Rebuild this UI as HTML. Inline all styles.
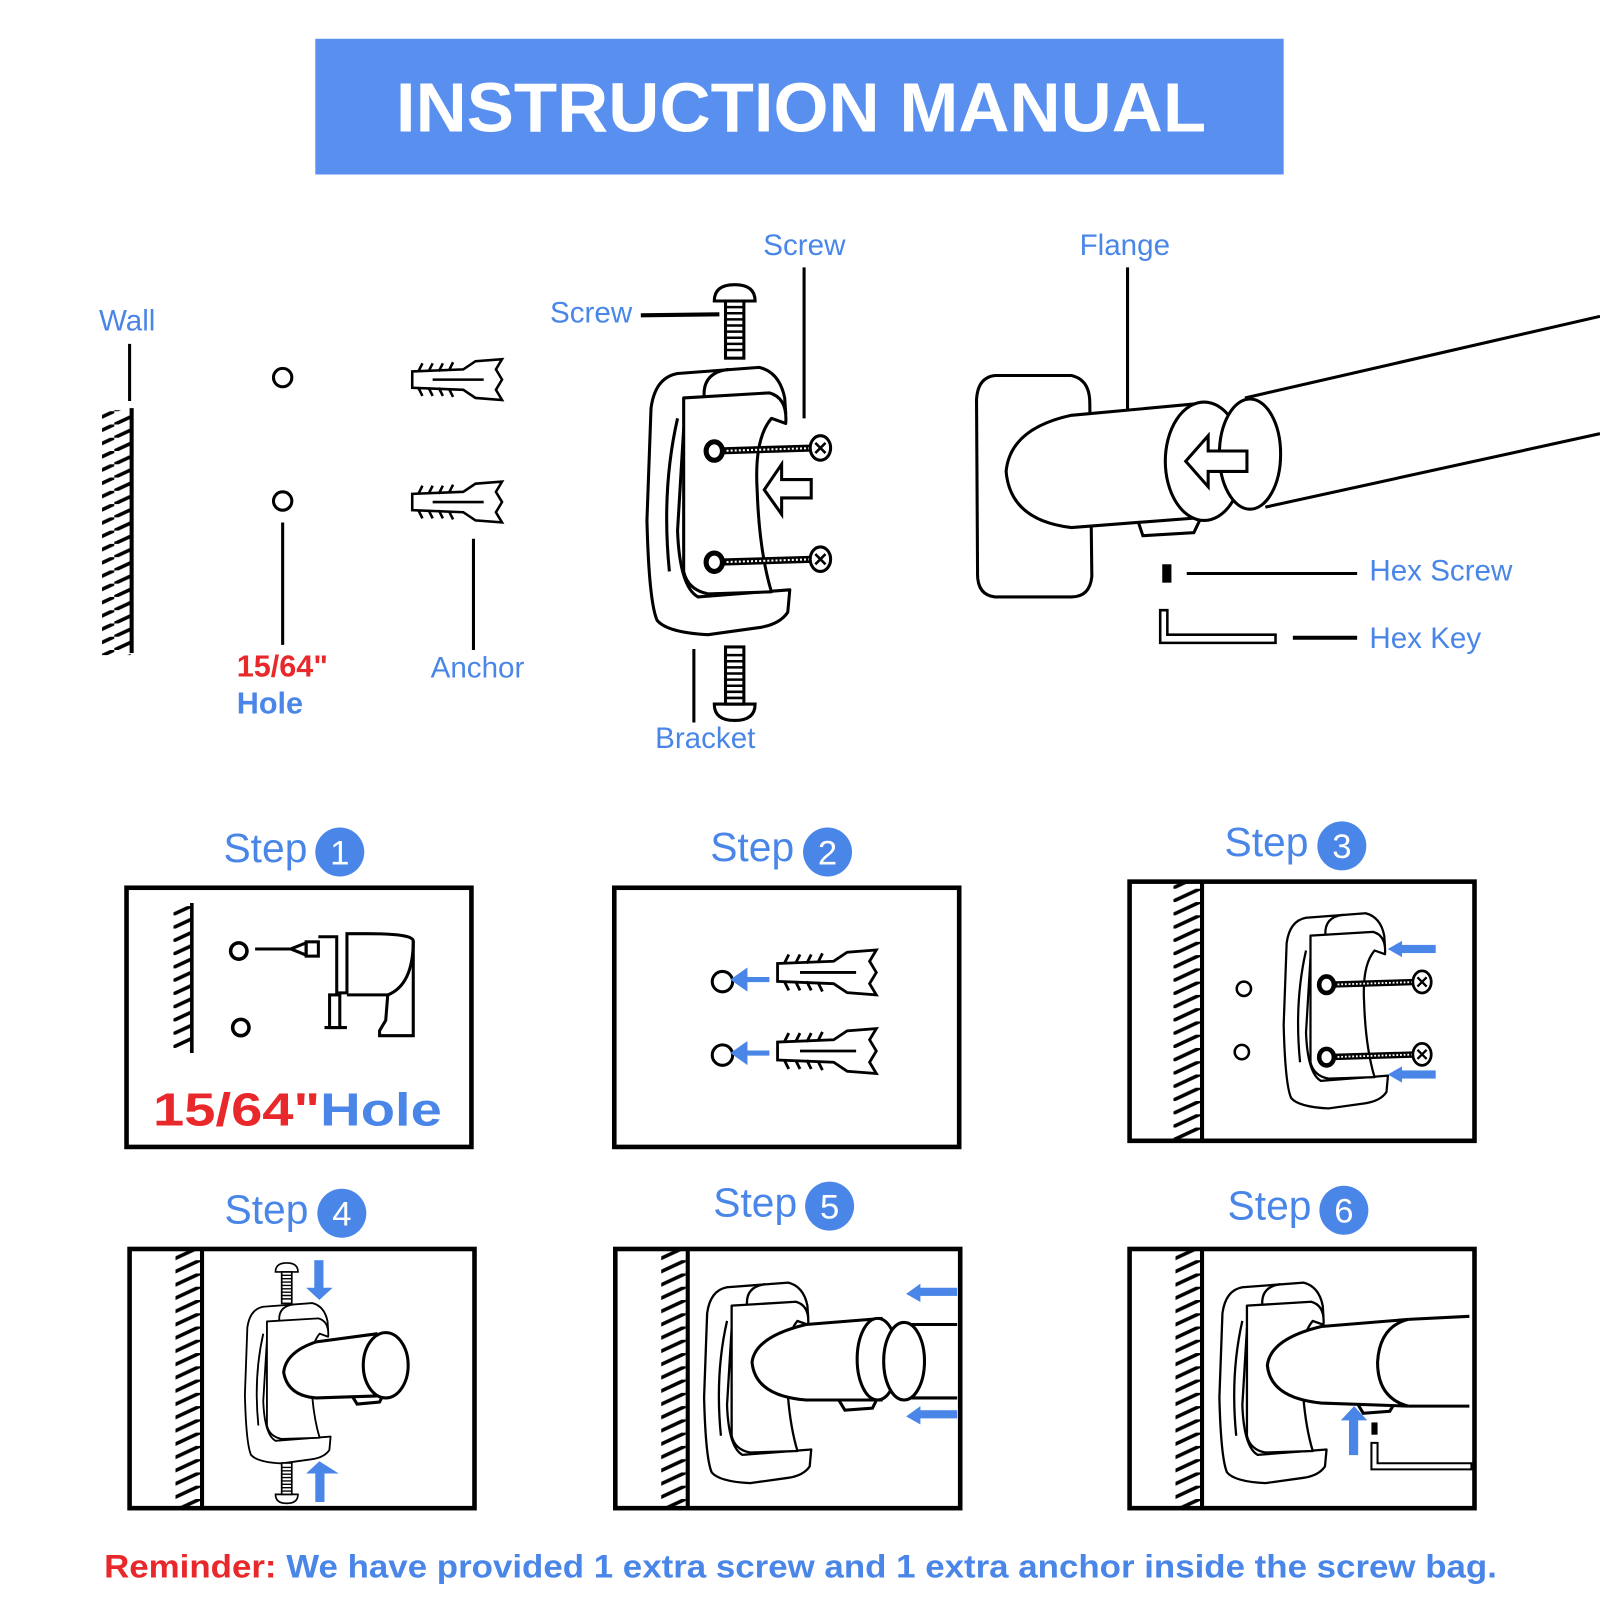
<!DOCTYPE html>
<html><head><meta charset="utf-8"><style>
html,body{margin:0;padding:0;background:#fff;}
svg{display:block;}
text{font-family:"Liberation Sans",sans-serif;}
</style></head><body>
<svg width="1600" height="1600" viewBox="0 0 1568 1568" xmlns="http://www.w3.org/2000/svg">
<defs>
  <pattern id="hatch" width="28" height="13" patternUnits="userSpaceOnUse">
    <line x1="0" y1="13" x2="28" y2="0" stroke="#000" stroke-width="3.5"/>
  </pattern>
  <g id="bracket" fill="#fff" stroke="#000" stroke-width="3" stroke-linejoin="round">
    <path d="M30,6 L110,0 Q130,5 135,30 L136,45 L60,40 Q40,42 36,60 L30,160 Q32,215 50,225 L140,218 L138,240 Q130,252 110,255 L60,262 Q20,260 10,248 Q2,230 0,150 L4,40 Q8,10 30,6 Z"/>
    <path d="M36,30 L120,25 Q138,30 136,55 L122,50 Q105,70 108,120 Q110,180 122,220 L60,222 Q40,218 36,200 Z"/>
    <path d="M30,50 Q14,120 22,200" fill="none"/>
    <path d="M56,28 Q55,5 80,2" fill="none"/>
  </g>
  <g id="anchor" fill="#fff" stroke="#000" stroke-width="2.5">
    <path d="M0,-8 L50,-10 L62,-18 L88,-20 L82,-10 L88,0 L82,10 L88,20 L62,18 L50,10 L0,8 Z"/>
    <path d="M6,-8 L10,-16 M16,-8 L20,-16 M26,-8 L30,-16 M36,-9 L40,-17 M6,8 L10,16 M16,8 L20,16 M26,8 L30,16 M36,9 L40,17" fill="none"/>
    <line x1="20" y1="0" x2="70" y2="0"/>
  </g>
  <g id="hscrew">
    <line x1="0" y1="0" x2="100" y2="-3" stroke="#000" stroke-width="7"/>
    <line x1="4" y1="0" x2="100" y2="-3" stroke="#fff" stroke-width="2" stroke-dasharray="2 2"/>
    <ellipse cx="0" cy="0" rx="8" ry="9" fill="#fff" stroke="#000" stroke-width="5"/>
    <ellipse cx="104" cy="-3" rx="10" ry="12" fill="#fff" stroke="#000" stroke-width="3"/>
    <path d="M99,-8 L109,2 M109,-8 L99,2" stroke="#000" stroke-width="2.5"/>
  </g>
  <g id="vscrew" fill="#fff" stroke="#000" stroke-width="3">
    <path d="M-20,10 Q-20,-6 0,-6 Q20,-6 20,10 Z"/>
    <rect x="-9" y="10" width="18" height="56"/>
    <path d="M-9,16 H9 M-9,22 H9 M-9,28 H9 M-9,34 H9 M-9,40 H9 M-9,46 H9 M-9,52 H9 M-9,58 H9" stroke-width="2.5"/>
  </g>
</defs>

<!-- Title -->
<rect x="309" y="38" width="949" height="133" fill="#5990f0"/>
<text x="388" y="129" fill="#fff" font-size="68" font-weight="bold" textLength="794" lengthAdjust="spacingAndGlyphs">INSTRUCTION MANUAL</text>

<!-- Wall -->
<text x="97" y="324" fill="#4a86e8" font-size="29">Wall</text>
<line x1="127" y1="337" x2="127" y2="393" stroke="#000" stroke-width="3"/>
<rect x="100" y="402" width="28" height="240" fill="url(#hatch)"/>
<line x1="129" y1="400" x2="129" y2="640" stroke="#000" stroke-width="4"/>

<!-- Holes -->
<circle cx="277" cy="370" r="9" fill="none" stroke="#000" stroke-width="3"/>
<circle cx="277" cy="491" r="9" fill="none" stroke="#000" stroke-width="3"/>
<line x1="277" y1="512" x2="277" y2="632" stroke="#000" stroke-width="3"/>
<text x="232" y="663" fill="#e8282b" font-size="30" font-weight="bold">15/64"</text>
<text x="232" y="699" fill="#4a86e8" font-size="30" font-weight="bold">Hole</text>

<!-- Anchors -->
<use href="#anchor" transform="translate(404,372)"/>
<use href="#anchor" transform="translate(404,492)"/>
<line x1="464" y1="528" x2="464" y2="637" stroke="#000" stroke-width="3"/>
<text x="422" y="664" fill="#4a86e8" font-size="29">Anchor</text>

<!-- Bracket -->
<text x="539" y="316" fill="#4a86e8" font-size="29">Screw</text>
<line x1="628" y1="309" x2="705" y2="308" stroke="#000" stroke-width="4"/>
<use href="#vscrew" transform="translate(720,285)"/>
<text x="748" y="250" fill="#4a86e8" font-size="29">Screw</text>
<line x1="788" y1="262" x2="788" y2="410" stroke="#000" stroke-width="3"/>
<use href="#bracket" transform="translate(634,360)"/>
<use href="#hscrew" transform="translate(700,442)"/>
<use href="#hscrew" transform="translate(700,551)"/>
<path d="M749,480 L766,455 L766,470 L795,470 L795,488 L766,488 L766,504 Z" fill="#fff" stroke="#000" stroke-width="3"/>
<use href="#vscrew" transform="translate(720,700) scale(1,-1)"/>
<line x1="680" y1="636" x2="680" y2="708" stroke="#000" stroke-width="3"/>
<text x="642" y="733" fill="#4a86e8" font-size="29">Bracket</text>

<!-- Flange -->
<text x="1058" y="250" fill="#4a86e8" font-size="29">Flange</text>
<line x1="1105" y1="262" x2="1105" y2="425" stroke="#000" stroke-width="3"/>
<g fill="#fff" stroke="#000" stroke-width="3">
  <path d="M975,368 L1050,368 Q1068,372 1068,395 L1070,565 Q1068,585 1050,585 L975,585 Q957,583 958,560 L957,392 Q958,370 975,368 Z"/>
  <path d="M1115,510 L1120,525 L1170,522 L1178,505"/>
  <path d="M1180,395 L1050,407 Q990,420 986,462 Q990,510 1050,517 L1180,507"/>
  <path d="M1220,390 L1568,310 M1240,497 L1568,425" fill="none"/>
  <ellipse cx="1180" cy="452" rx="38" ry="58"/>
  <ellipse cx="1225" cy="445" rx="30" ry="54"/>
  <path d="M1162,452 L1184,427 L1184,442 L1222,442 L1222,462 L1184,462 L1184,477 Z"/>
</g>
<rect x="1139" y="553" width="9" height="18" fill="#000"/>
<line x1="1163" y1="562" x2="1330" y2="562" stroke="#000" stroke-width="3"/>
<text x="1342" y="569" fill="#4a86e8" font-size="29">Hex Screw</text>
<path d="M1137,598 L1137,630 L1250,630 L1250,622 L1144,622 L1144,598 Z" fill="#fff" stroke="#000" stroke-width="2.5"/>
<line x1="1267" y1="625" x2="1330" y2="625" stroke="#000" stroke-width="4"/>
<text x="1342" y="635" fill="#4a86e8" font-size="29">Hex Key</text>

<!-- Step labels -->
<g fill="#4a86e8" font-size="40">
  <text x="219" y="845">Step</text><text x="696" y="844">Step</text><text x="1200" y="839">Step</text>
  <text x="220" y="1199">Step</text><text x="699" y="1192">Step</text><text x="1203" y="1195">Step</text>
</g>
<g fill="#4a86e8">
  <circle cx="333" cy="835" r="24"/><circle cx="811" cy="835" r="24"/><circle cx="1315" cy="829" r="24"/>
  <circle cx="335" cy="1189" r="24"/><circle cx="813" cy="1182" r="24"/><circle cx="1317" cy="1186" r="24"/>
</g>
<g fill="#fff" font-size="34" text-anchor="middle">
  <text x="333" y="847">1</text><text x="811" y="847">2</text><text x="1315" y="841">3</text>
  <text x="335" y="1201">4</text><text x="813" y="1194">5</text><text x="1317" y="1198">6</text>
</g>

<!-- Boxes -->
<g fill="none" stroke="#000" stroke-width="4.5">
  <rect x="124" y="870" width="338" height="254"/>
  <rect x="602" y="870" width="338" height="254"/>
  <rect x="1107" y="864" width="338" height="254"/>
  <rect x="127" y="1224" width="338" height="254"/>
  <rect x="603" y="1224" width="338" height="254"/>
  <rect x="1107" y="1224" width="338" height="254"/>
</g>

<!-- Step 1 -->
<rect x="170" y="888" width="18" height="142" fill="url(#hatch)"/>
<line x1="188" y1="885" x2="188" y2="1032" stroke="#000" stroke-width="3.5"/>
<circle cx="234" cy="932" r="8" fill="none" stroke="#000" stroke-width="3.5"/>
<circle cx="236" cy="1007" r="8" fill="none" stroke="#000" stroke-width="3.5"/>
<g fill="none" stroke="#000" stroke-width="3">
  <line x1="250" y1="930" x2="285" y2="930"/>
  <path d="M285,930 L300,924 L300,936 Z"/>
  <rect x="300" y="923" width="12" height="14"/>
  <path d="M312,918 L330,918 L330,973 L340,973 L340,915 L360,915 Q405,915 405,922 Q405,965 380,975 L340,975"/>
  <rect x="323" y="975" width="10" height="32"/>
  <line x1="318" y1="1007" x2="340" y2="1007"/>
  <path d="M380,975 L378,1000 L372,1010 L372,1015 L405,1015 L405,922"/>
</g>
<text x="150" y="1103" font-size="45" font-weight="bold" textLength="283" lengthAdjust="spacingAndGlyphs"><tspan fill="#e8282b">15/64"</tspan><tspan fill="#4a86e8">Hole</tspan></text>

<!-- Step 2 -->
<circle cx="708" cy="962" r="10" fill="none" stroke="#000" stroke-width="3"/>
<circle cx="708" cy="1034" r="10" fill="none" stroke="#000" stroke-width="3"/>
<g stroke="#4a86e8" stroke-width="5" fill="#4a86e8">
  <line x1="725" y1="960" x2="754" y2="960"/><path d="M720,960 L730,953 L730,967 Z"/>
  <line x1="725" y1="1032" x2="754" y2="1032"/><path d="M720,1032 L730,1025 L730,1039 Z"/>
</g>
<use href="#anchor" transform="translate(762,953) scale(1.1)"/>
<use href="#anchor" transform="translate(762,1030) scale(1.1)"/>

<!-- Step 3 -->
<rect x="1150" y="866" width="28" height="250" fill="url(#hatch)"/>
<line x1="1178" y1="864" x2="1178" y2="1118" stroke="#000" stroke-width="4"/>
<circle cx="1219" cy="969" r="7" fill="none" stroke="#000" stroke-width="2.5"/>
<circle cx="1217" cy="1031" r="7" fill="none" stroke="#000" stroke-width="2.5"/>
<use href="#bracket" transform="translate(1258,895) scale(0.73)"/>
<use href="#hscrew" transform="translate(1300,965) scale(0.9)"/>
<use href="#hscrew" transform="translate(1300,1036) scale(0.9)"/>
<g fill="#4a86e8">
  <rect x="1372" y="926" width="35" height="8"/><path d="M1360,930 L1374,922 L1374,938 Z"/>
  <rect x="1372" y="1049" width="35" height="8"/><path d="M1360,1053 L1374,1045 L1374,1061 Z"/>
</g>

<!-- Step 4 -->
<rect x="172" y="1226" width="26" height="250" fill="url(#hatch)"/>
<line x1="198" y1="1224" x2="198" y2="1478" stroke="#000" stroke-width="4"/>
<use href="#bracket" transform="translate(240,1277) scale(0.6)"/>
<g fill="#fff" stroke="#000" stroke-width="3">
  <path d="M345,1368 L350,1376 L372,1374 L376,1366"/>
  <path d="M370,1307 L310,1315 Q280,1325 278,1345 Q282,1368 310,1370 L370,1368"/>
  <ellipse cx="378" cy="1338" rx="22" ry="32"/>
</g>
<use href="#vscrew" transform="translate(281,1241) scale(0.55)"/>
<use href="#vscrew" transform="translate(281,1470) scale(0.55,-0.55)"/>
<g fill="#4a86e8">
  <rect x="308" y="1235" width="9" height="30"/><path d="M300,1262 L326,1262 L313,1274 Z"/>
  <rect x="309" y="1442" width="9" height="30"/><path d="M300,1444 L332,1444 L313,1432 Z"/>
</g>

<!-- Step 5 -->
<rect x="648" y="1226" width="26" height="250" fill="url(#hatch)"/>
<line x1="674" y1="1224" x2="674" y2="1478" stroke="#000" stroke-width="4"/>
<use href="#bracket" transform="translate(690,1257) scale(0.75)"/>
<g fill="#fff" stroke="#000" stroke-width="3">
  <path d="M822,1372 L828,1382 L855,1380 L860,1370"/>
  <path d="M865,1292 L790,1298 Q740,1310 737,1335 Q740,1368 790,1372 L865,1372"/>
  <ellipse cx="860" cy="1332" rx="20" ry="40"/>
  <path d="M880,1298 L938,1298 M890,1370 L938,1370" fill="none"/>
  <ellipse cx="886" cy="1334" rx="20" ry="38"/>
</g>
<g fill="#4a86e8">
  <rect x="900" y="1262" width="38" height="8"/><path d="M888,1268 L902,1258 L902,1276 Z"/>
  <rect x="900" y="1382" width="38" height="8"/><path d="M888,1388 L902,1378 L902,1396 Z"/>
</g>

<!-- Step 6 -->
<rect x="1152" y="1226" width="26" height="250" fill="url(#hatch)"/>
<line x1="1178" y1="1224" x2="1178" y2="1478" stroke="#000" stroke-width="4"/>
<use href="#bracket" transform="translate(1195,1257) scale(0.75)"/>
<g fill="#fff" stroke="#000" stroke-width="3">
  <path d="M1330,1375 L1336,1385 L1362,1383 L1368,1373"/>
  <path d="M1380,1293 L1440,1290 M1380,1378 L1440,1378" fill="none"/>
  <path d="M1380,1293 L1295,1300 Q1245,1312 1242,1338 Q1245,1370 1295,1375 L1380,1378 Q1350,1370 1350,1335 Q1352,1300 1380,1293 Z"/>
</g>
<rect x="1322" y="1390" width="9" height="36" fill="#4a86e8"/><path d="M1314,1392 L1340,1392 L1327,1378 Z" fill="#4a86e8"/>
<rect x="1344" y="1394" width="6" height="12" fill="#000"/>
<path d="M1344,1414 L1344,1440 L1442,1440 L1442,1434 L1350,1434 L1350,1414 Z" fill="#fff" stroke="#000" stroke-width="2"/>

<!-- Reminder -->
<text x="102" y="1546" font-size="32" font-weight="bold" textLength="1365" lengthAdjust="spacingAndGlyphs"><tspan fill="#e8282b">Reminder: </tspan><tspan fill="#4a86e8">We have provided 1 extra screw and 1 extra anchor inside the screw bag.</tspan></text>
</svg>
</body></html>
